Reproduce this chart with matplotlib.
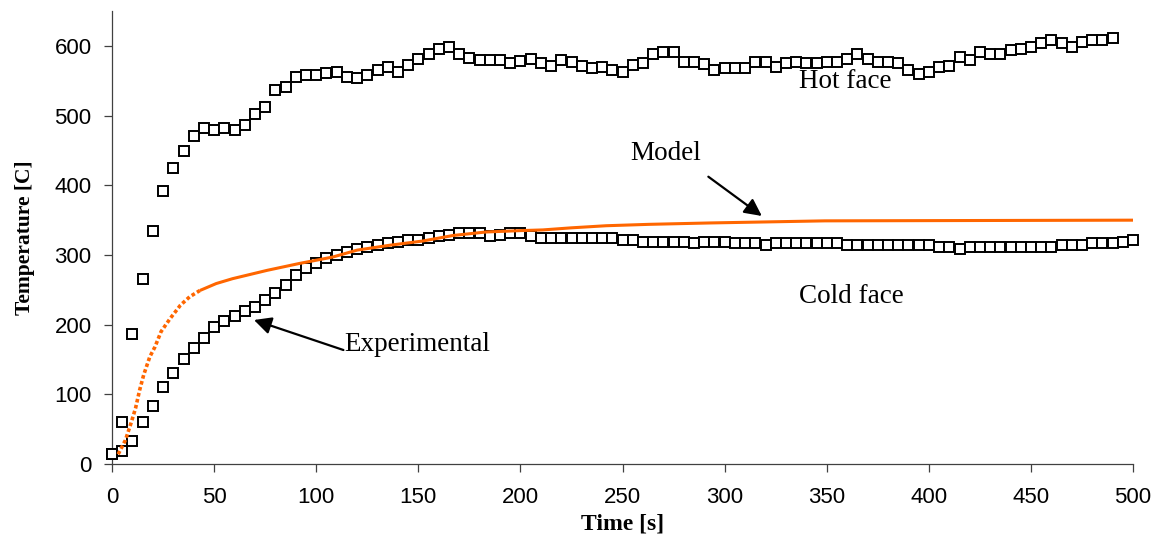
import matplotlib
matplotlib.use("Agg")
import matplotlib.pyplot as plt
import numpy as np

# ---------------- data ----------------
hot_time = list(range(0, 495, 5))
hot_temp = [14, 60, 186, 266, 335, 392, 425, 449, 471, 482,
            480, 482, 480, 487, 502, 513, 537, 541, 556, 558,
            558, 561, 563, 556, 554, 558, 565, 570, 563, 573,
            582, 588, 596, 599, 589, 583, 580, 580, 580, 576,
            578, 581, 575, 571, 580, 577, 571, 569, 570, 565,
            563, 573, 576, 588, 592, 592, 577, 577, 574, 565,
            568, 568, 568, 577, 577, 570, 575, 577, 576, 576,
            577, 577, 581, 588, 582, 577, 577, 576, 566, 560,
            563, 570, 572, 584, 580, 592, 589, 589, 594, 595,
            599, 604, 608, 604, 599, 606, 608, 608, 611]

cold_time = list(range(0, 505, 5))
cold_temp = [15, 18, 33, 60, 83, 110, 131, 150, 167, 181,
             196, 205, 212, 219, 226, 236, 245, 257, 271, 282,
             288, 296, 300, 304, 309, 312, 314, 317, 319, 321,
             321, 325, 327, 328, 331, 332, 331, 327, 328, 331,
             331, 327, 325, 325, 325, 325, 324, 324, 324, 324,
             321, 321, 319, 319, 319, 319, 319, 317, 319, 319,
             319, 317, 317, 317, 314, 317, 317, 317, 317, 317,
             317, 317, 314, 314, 314, 314, 314, 314, 314, 314,
             314, 312, 312, 309, 312, 312, 312, 312, 312, 312,
             312, 312, 312, 314, 314, 314, 317, 317, 317, 319,
             321]

model_time = [3, 6.5, 9, 11.5, 13.5, 15.5, 18.5, 21, 24, 28.5,
              33.5, 38, 43, 51, 59, 76, 92, 108, 120, 136,
              152, 167, 183, 200, 211, 225, 242, 263, 293, 349, 500]
model_temp = [14, 34, 56, 80, 106, 128, 154, 168, 190, 209,
              228, 240, 249, 259, 266, 278, 288, 297, 307, 314,
              320, 328, 333, 335, 336, 339, 342, 344, 346, 349, 350]

x_ticks = [0, 50, 100, 150, 200, 250, 300, 350, 400, 450, 500]
y_ticks = [0, 100, 200, 300, 400, 500, 600]

# ---------------- figure ----------------
fig = plt.figure(figsize=(11.6, 5.34), dpi=100)
ax = fig.add_axes([0.0966, 0.1311, 0.8802, 0.848])

serif = ["Liberation Serif", "DejaVu Serif"]
sans = ["Liberation Sans", "DejaVu Sans"]
axis_col = "#404040"
orange = "#FF6600"

box = dict(linestyle="none", marker="s", ms=7.2, mfc="white", mec="black",
           mew=1.4, zorder=3, clip_on=False)
ax.plot(hot_time, hot_temp, **box)
ax.plot(cold_time, cold_temp, **box)

# model: steep start appears as a dotted trace, then a continuous line
split = 13
ax.plot(model_time[:split], model_temp[:split], color=orange, lw=2.6,
        linestyle=(0, (1.0, 0.7)), zorder=4)
ax.plot(model_time[split - 1:], model_temp[split - 1:], color=orange, lw=2.2,
        zorder=4, solid_capstyle="butt")

ax.set_xlim(0, 500)
ax.set_ylim(0, 650)
ax.set_xticks(x_ticks)
ax.set_yticks(y_ticks)
ax.set_xticklabels([str(v) for v in x_ticks], fontfamily=sans, fontsize=16)
ax.set_yticklabels([str(v) for v in y_ticks], fontfamily=sans, fontsize=16)

for s in ["top", "right"]:
    ax.spines[s].set_visible(False)
for s in ["left", "bottom"]:
    ax.spines[s].set_color(axis_col)
    ax.spines[s].set_linewidth(0.9)
ax.tick_params(axis="both", direction="out", color=axis_col, width=0.9,
               length=5.8)
ax.tick_params(axis="x", pad=11)
ax.tick_params(axis="y", pad=9)

ax.set_xlabel("Time [s]", fontfamily=serif, fontweight="bold", fontsize=17,
              labelpad=4)
ax.set_ylabel("Temperature [C]", fontfamily=serif, fontweight="bold",
              fontsize=15.5, labelpad=14)

# annotations
ax.text(336.4, 548.7, "Hot face", fontfamily=serif, fontsize=19.5,
        ha="left", va="center")
ax.text(336.4, 240, "Cold face", fontfamily=serif, fontsize=19.5,
        ha="left", va="center")
ax.text(271.3, 446.4, "Model", fontfamily=serif, fontsize=19.5,
        ha="center", va="center")
ax.text(113.7, 171, "Experimental", fontfamily=serif, fontsize=19.5,
        ha="left", va="center")

arrow = dict(arrowstyle="-|>", color="black", lw=1.6, mutation_scale=26,
             shrinkA=0, shrinkB=0)
ax.annotate("", xy=(318.2, 356), xytext=(292, 412.4), arrowprops=arrow)
ax.annotate("", xy=(69.5, 206.7), xytext=(113.3, 163.6), arrowprops=arrow)

fig.savefig("out.png", dpi=100)
